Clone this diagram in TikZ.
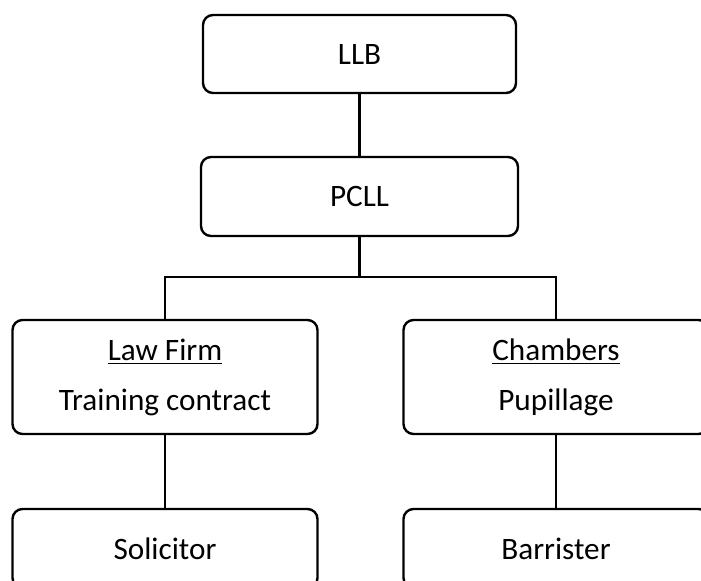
\documentclass[tikz,border=0pt]{standalone}
\usepackage{fontspec}
\setmainfont{Carlito}

\begin{document}
\begin{tikzpicture}[x=0.5pt, y=-0.5pt,
        box/.style={draw, line width=1.2pt, rounded corners=5pt, align=center, inner sep=0pt,
            font=\fontsize{15.6}{25}\selectfont},
        link/.style={line width=1.2pt}]
        \useasboundingbox (0,0) rectangle (701,580);
        \clip (0,0) rectangle (701,580);
        \node[box, minimum width=156.5pt, minimum height=39pt] (llb) at (359.5,54) {LLB};
        \node[box, minimum width=158.5pt, minimum height=39.5pt] (pcll) at (359.5,196.5) {PCLL};
        \node[box, minimum width=152.5pt, minimum height=57pt] (firm) at (165,377) {\underline{Law Firm}\\Training contract};
        \node[box, minimum width=152.5pt, minimum height=57pt] (chambers) at (556,377) {\underline{Chambers}\\Pupillage};
        \node[box, minimum width=152.5pt, minimum height=39.5pt] (solicitor) at (165,548.5) {Solicitor};
        \node[box, minimum width=152.5pt, minimum height=39.5pt] (barrister) at (556,548.5) {Barrister};
        \coordinate (split) at (359.5,277);
        \draw [link] (llb) -- (pcll);
        \draw [link] (pcll) -- (split);
        \draw [link] (split) -| (firm);
        \draw [link] (split) -| (chambers);
        \draw [link] (firm) -- (solicitor);
        \draw [link] (chambers) -- (barrister);
    \end{tikzpicture}
\end{document}
